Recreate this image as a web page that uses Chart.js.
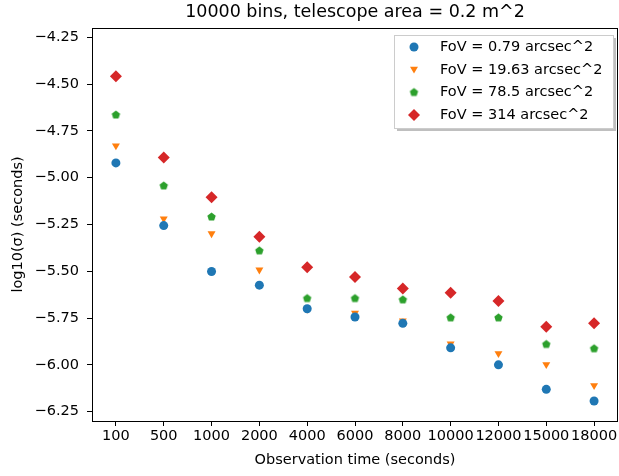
<!DOCTYPE html>
<html>
<head>
<meta charset="utf-8">
<script src="https://cdn.jsdelivr.net/npm/chart.js@4/dist/chart.umd.min.js"></script>
<style>
  html, body { margin: 0; padding: 0; background: #fff; }
  #chartDiv { width: 619px; height: 476px; }
</style>
</head>
<body>
<div id="chartDiv"><canvas id="myChart"></canvas></div>
<script>
// observation times (categories on x)
const labels = ['100', '500', '1000', '2000', '4000', '6000', '8000', '10000', '12000', '15000', '18000'];

// log10(sigma) per field of view
const fov079 = [-4.921, -5.256, -5.501, -5.574, -5.700, -5.744, -5.778, -5.909, -6.000, -6.131, -6.193];
const fov1963 = [-4.829, -5.219, -5.299, -5.492, -5.702, -5.723, -5.764, -5.888, -5.939, -5.998, -6.110];
const fov785 = [-4.662, -5.041, -5.207, -5.388, -5.643, -5.643, -5.650, -5.746, -5.746, -5.888, -5.911];
const fov314 = [-4.458, -4.892, -5.104, -5.315, -5.478, -5.530, -5.592, -5.615, -5.659, -5.796, -5.778];

const seriesNames = ['FoV = 0.79 arcsec^2', 'FoV = 19.63 arcsec^2', 'FoV = 78.5 arcsec^2', 'FoV = 314 arcsec^2'];
const colors = ['#1f77b4', '#ff7f0e', '#2ca02c', '#d62728'];

// no pentagon in chart.js, so make one
function pentagon(color, r) {
  const c = document.createElement('canvas');
  const s = Math.ceil(r * 2) + 2;
  c.width = s; c.height = s;
  const g = c.getContext('2d');
  g.fillStyle = color;
  g.beginPath();
  for (let i = 0; i < 5; i++) {
    const a = -Math.PI / 2 + i * 2 * Math.PI / 5;
    const px = s / 2 + r * Math.cos(a), py = s / 2 + 0.5 + r * Math.sin(a);
    if (i === 0) g.moveTo(px, py); else g.lineTo(px, py);
  }
  g.closePath();
  g.fill();
  return c;
}
const pent = pentagon(colors[2], 4.4);

const fontFam = "'DejaVu Sans', sans-serif";

var data = [
  { label: seriesNames[0], data: fov079, pointStyle: 'circle', pointRadius: 4.5, pointRotation: 0 },
  { label: seriesNames[1], data: fov1963, pointStyle: 'triangle', pointRadius: 4.6, pointRotation: 180 },
  { label: seriesNames[2], data: fov785, pointStyle: pent, pointRadius: 5, pointRotation: 0 },
  { label: seriesNames[3], data: fov314, pointStyle: 'rectRot', pointRadius: 6, pointRotation: 0 }
].map((d, i) => Object.assign(d, {
  showLine: false,
  backgroundColor: colors[i],
  borderColor: colors[i],
  pointBackgroundColor: colors[i],
  pointBorderWidth: 0,
  pointHoverRadius: d.pointRadius
}));

// matplotlib style legend box with shadow, frame round the axes
const mplExtras = {
  id: 'mplExtras',
  afterDraw(chart) {
    const c = chart.ctx;
    const a = chart.chartArea;
    c.save();
    c.strokeStyle = '#000';
    c.lineWidth = 1;
    c.strokeRect(Math.round(a.left) + 0.5, Math.round(a.top) + 0.5, Math.round(a.right - a.left) - 1, Math.round(a.bottom - a.top));

    const bx = 394, by = 35, bw = 219, bh = 93;
    c.fillStyle = 'rgba(128,128,128,0.5)';
    c.fillRect(bx + 3, by + 3, bw, bh);
    c.fillStyle = '#fff';
    c.fillRect(bx, by, bw, bh);
    c.strokeStyle = '#cccccc';
    c.strokeRect(bx + 0.5, by + 0.5, bw, bh);

    const rows = [47, 70, 92, 115];
    c.font = '14.5px ' + fontFam;
    c.textBaseline = 'middle';
    chart.data.datasets.forEach((ds, i) => {
      c.fillStyle = ds.pointBackgroundColor;
      c.strokeStyle = ds.pointBackgroundColor;
      Chart.helpers.drawPoint(c, {
        pointStyle: ds.pointStyle,
        radius: ds.pointRadius,
        rotation: ds.pointRotation,
        borderWidth: 0
      }, 414, rows[i] + (i === 1 ? -1 : 0));
      c.fillStyle = '#000';
      c.fillText(ds.label, 440, rows[i]);
    });
    c.restore();
  }
};

var ctx = document.getElementById('myChart');

var options = {
  responsive: true,
  maintainAspectRatio: false,
  animation: false,
  layout: { autoPadding: false, padding: { left: 0, right: 1, top: 0, bottom: 0 } },
  plugins: {
    legend: { display: false },
    tooltip: { enabled: false },
    title: {
      display: true,
      fullSize: false,
      text: '10000 bins, telescope area = 0.2 m^2',
      color: '#000',
      font: { family: fontFam, size: 17.5, weight: 'normal' },
      padding: { top: 2, bottom: 5 }
    }
  },
  scales: {
    x: {
      offset: true,
      grid: { drawOnChartArea: false, drawTicks: true, tickLength: 5, color: '#000', offset: false },
      border: { display: false },
      ticks: { color: '#000', font: { family: fontFam, size: 14.5 }, padding: 2, maxRotation: 0, autoSkip: false },
      title: { display: true, text: 'Observation time (seconds)', color: '#000', font: { family: fontFam, size: 14.5 }, padding: { top: 2, bottom: 7 } },
      afterFit(scale) {
        scale.height = 55;
        scale.paddingLeft = 0;
        scale.paddingRight = 0;
      }
    },
    y: {
      min: -6.30,
      max: -4.20,
      grid: { drawOnChartArea: false, drawTicks: true, tickLength: 5, color: '#000' },
      border: { display: false },
      ticks: {
        stepSize: 0.25,
        includeBounds: false,
        color: '#000',
        font: { family: fontFam, size: 14.5 },
        padding: 8,
        callback: v => v.toFixed(2).replace('-', '\u2212')
      },
      title: { display: true, text: 'log10(\u03c3) (seconds)', color: '#000', font: { family: fontFam, size: 14.5 }, padding: { top: 10, bottom: 6 } },
      afterFit(scale) { scale.width = 92; }
    }
  }
};

var StockChart = new Chart(ctx, {
  type: 'line',
  data: { labels: labels, datasets: data },
  options: options,
  plugins: [mplExtras]
});
</script>
</body>
</html>
